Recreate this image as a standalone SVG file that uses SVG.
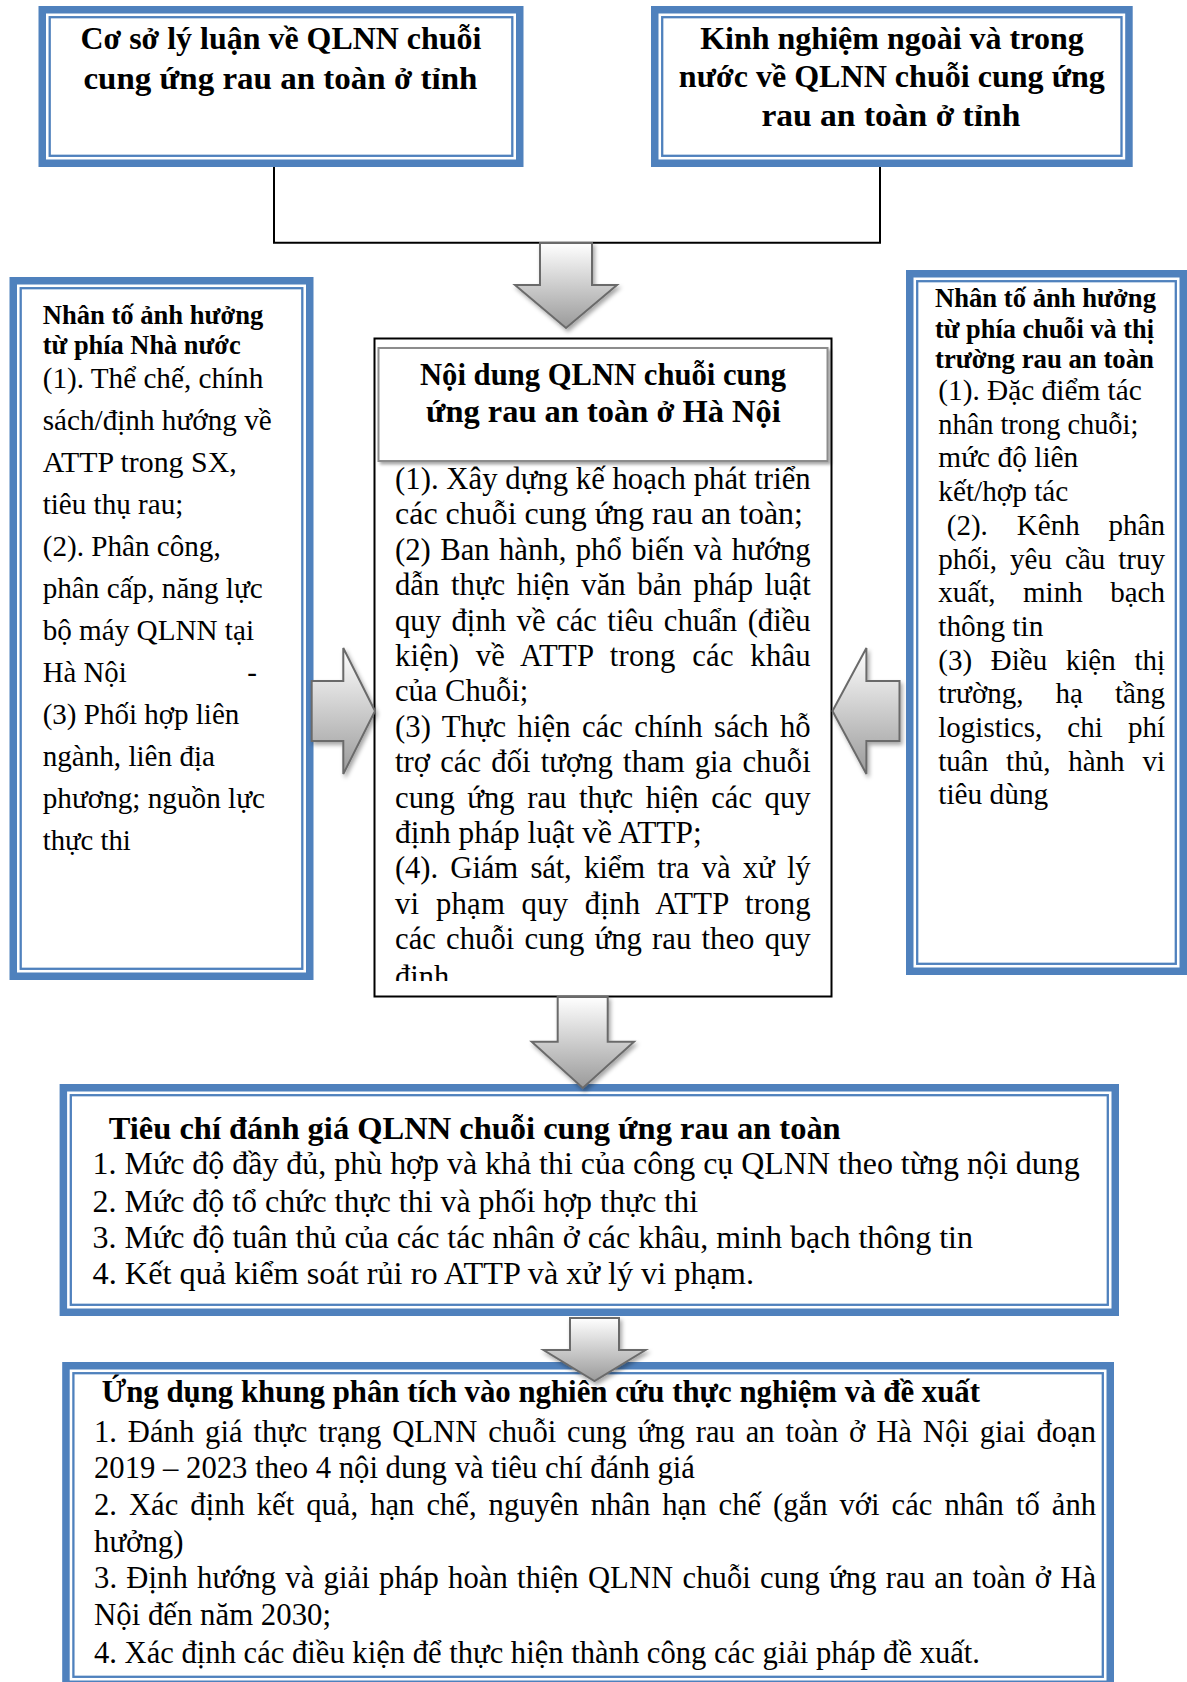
<svg xmlns="http://www.w3.org/2000/svg" width="1187" height="1682" viewBox="0 0 1187 1682">
<style>
.bt{fill:#fff;stroke:#4f81bd;stroke-width:7.5}
.bn{fill:none;stroke:#4f81bd;stroke-width:2.3}
.h{font-family:"Liberation Serif","Times New Roman","DejaVu Serif",serif;font-weight:bold;fill:#000}
.r{font-family:"Liberation Serif","Times New Roman","DejaVu Serif",serif;fill:#000}
.arr{fill:url(#ag);stroke:#6b6b6b;stroke-width:2;stroke-linejoin:miter;filter:url(#sh)}
.ln{fill:none;stroke:#000;stroke-width:2}
</style>
<defs>
<linearGradient id="ag" x1="0" y1="0" x2="0" y2="1">
<stop offset="0" stop-color="#ffffff"/>
<stop offset="1" stop-color="#9a9a9a"/>
</linearGradient>
<filter id="sh" x="-20%" y="-20%" width="150%" height="150%">
<feDropShadow dx="2" dy="3" stdDeviation="2" flood-color="#000" flood-opacity="0.35"/>
</filter>
<filter id="tsh" x="-5%" y="-5%" width="115%" height="120%">
<feDropShadow dx="2.5" dy="2.5" stdDeviation="1.5" flood-color="#000" flood-opacity="0.35"/>
</filter>
<clipPath id="cclip"><rect x="376" y="340" width="455" height="641"/></clipPath>
</defs>
<rect width="1187" height="1682" fill="#fff"/>

<g id="node-coso">
<rect class="bt" x="42.25" y="9.75" width="477.5" height="153.5"/>
<rect class="bn" x="49.7" y="17.2" width="462.6" height="138.6"/>
<text class="h" font-size="32.5" x="80.4" y="49" textLength="401" lengthAdjust="spacingAndGlyphs">Cơ sở lý luận về QLNN chuỗi</text>
<text class="h" font-size="32.5" x="83.4" y="89" textLength="394" lengthAdjust="spacingAndGlyphs">cung ứng rau an toàn ở tỉnh</text>
</g>

<g id="node-kinhnghiem">
<rect class="bt" x="654.75" y="9.75" width="474.2" height="153.5"/>
<rect class="bn" x="662.2" y="17.2" width="459.3" height="138.6"/>
<text class="h" font-size="32.5" x="700.2" y="48.5" textLength="383.5" lengthAdjust="spacingAndGlyphs">Kinh nghiệm ngoài và trong</text>
<text class="h" font-size="32.5" x="678.8" y="87" textLength="426" lengthAdjust="spacingAndGlyphs">nước về QLNN chuỗi cung ứng</text>
<text class="h" font-size="32.5" x="761.4" y="125.5" textLength="259" lengthAdjust="spacingAndGlyphs">rau an toàn ở tỉnh</text>
</g>

<g id="node-nhanuoc">
<rect class="bt" x="13.25" y="280.75" width="296.5" height="695.5"/>
<rect class="bn" x="20.7" y="288.2" width="281.6" height="680.6"/>
<text class="h" font-size="26.8" x="42.7" y="324.3" textLength="220.6" lengthAdjust="spacingAndGlyphs">Nhân tố ảnh hưởng</text>
<text class="h" font-size="26.8" x="42.7" y="354.1" textLength="198" lengthAdjust="spacingAndGlyphs">từ phía Nhà nước</text>
<text class="r" font-size="29" x="42.7" y="387.6" textLength="220.6" lengthAdjust="spacingAndGlyphs">(1). Thể chế, chính</text>
<text class="r" font-size="29" x="42.7" y="429.6" textLength="229" lengthAdjust="spacingAndGlyphs">sách/định hướng về</text>
<text class="r" font-size="29" x="42.7" y="471.7" textLength="194" lengthAdjust="spacingAndGlyphs">ATTP trong SX,</text>
<text class="r" font-size="29" x="42.7" y="513.7" textLength="140.6" lengthAdjust="spacingAndGlyphs">tiêu thụ rau;</text>
<text class="r" font-size="29" x="42.7" y="555.8" textLength="178" lengthAdjust="spacingAndGlyphs">(2). Phân công,</text>
<text class="r" font-size="29" x="42.7" y="597.8" textLength="220" lengthAdjust="spacingAndGlyphs">phân cấp, năng lực</text>
<text class="r" font-size="29" x="42.7" y="639.8" textLength="211.3" lengthAdjust="spacingAndGlyphs">bộ máy QLNN tại</text>
<text class="r" font-size="29" x="42.7" y="681.9" textLength="84" lengthAdjust="spacingAndGlyphs">Hà Nội</text>
<text class="r" font-size="29" x="247.3" y="681.9">-</text>
<text class="r" font-size="29" x="42.7" y="723.9" textLength="196.6" lengthAdjust="spacingAndGlyphs">(3) Phối hợp liên</text>
<text class="r" font-size="29" x="42.7" y="766" textLength="172.3" lengthAdjust="spacingAndGlyphs">ngành, liên địa</text>
<text class="r" font-size="29" x="42.7" y="808" textLength="222.3" lengthAdjust="spacingAndGlyphs">phương; nguồn lực</text>
<text class="r" font-size="29" x="42.7" y="850" textLength="88" lengthAdjust="spacingAndGlyphs">thực thi</text>
</g>

<g id="node-chuoi">
<rect class="bt" x="909.75" y="273.75" width="273.5" height="697.5"/>
<rect class="bn" x="917.2" y="281.2" width="258.6" height="682.6"/>
<text class="h" font-size="26.8" x="935" y="307" textLength="221" lengthAdjust="spacingAndGlyphs">Nhân tố ảnh hưởng</text>
<text class="h" font-size="26.8" x="935" y="337.5" textLength="219" lengthAdjust="spacingAndGlyphs">từ phía chuỗi và thị</text>
<text class="h" font-size="26.8" x="935" y="368" textLength="219" lengthAdjust="spacingAndGlyphs">trường rau an toàn</text>
<text class="r" font-size="29" x="938.3" y="400" textLength="203.4" lengthAdjust="spacingAndGlyphs">(1). Đặc điểm tác</text>
<text class="r" font-size="29" x="938.3" y="433.7" textLength="200" lengthAdjust="spacingAndGlyphs">nhân trong chuỗi;</text>
<text class="r" font-size="29" x="938.3" y="467.4" textLength="140" lengthAdjust="spacingAndGlyphs">mức độ liên</text>
<text class="r" font-size="29" x="938.3" y="501.1" textLength="130" lengthAdjust="spacingAndGlyphs">kết/hợp tác</text>
<text class="r" font-size="29" x="946.7" y="534.8" word-spacing="21.7" textLength="218.3" lengthAdjust="spacing">(2). Kênh phân</text>
<text class="r" font-size="29" x="938.3" y="568.5" word-spacing="5.8" textLength="226.7" lengthAdjust="spacing">phối, yêu cầu truy</text>
<text class="r" font-size="29" x="938.3" y="602.2" word-spacing="20.3" textLength="226.7" lengthAdjust="spacing">xuất, minh bạch</text>
<text class="r" font-size="29" x="938.3" y="635.9" textLength="105" lengthAdjust="spacingAndGlyphs">thông tin</text>
<text class="r" font-size="29" x="938.3" y="669.6" word-spacing="11.4" textLength="226.7" lengthAdjust="spacing">(3) Điều kiện thị</text>
<text class="r" font-size="29" x="938.3" y="703.3" word-spacing="24.6" textLength="226.7" lengthAdjust="spacing">trường, hạ tầng</text>
<text class="r" font-size="29" x="938.3" y="737" word-spacing="17.9" textLength="226.7" lengthAdjust="spacing">logistics, chi phí</text>
<text class="r" font-size="29" x="938.3" y="770.7" word-spacing="10.6" textLength="226.7" lengthAdjust="spacing">tuân thủ, hành vi</text>
<text class="r" font-size="29" x="938.3" y="804.4" textLength="110" lengthAdjust="spacingAndGlyphs">tiêu dùng</text>
</g>

<g id="node-noidung">
<rect x="374.5" y="338.5" width="457" height="658" fill="#fff" stroke="#000" stroke-width="2"/>
<rect x="378.5" y="348" width="449" height="113" fill="#fff" stroke="#8c8c8c" stroke-width="2" filter="url(#tsh)"/>
<text class="h" font-size="30.5" x="420" y="385" textLength="366" lengthAdjust="spacingAndGlyphs">Nội dung QLNN chuỗi cung</text>
<text class="h" font-size="30.5" x="426" y="422" textLength="354.7" lengthAdjust="spacingAndGlyphs">ứng rau an toàn ở Hà Nội</text>
<g clip-path="url(#cclip)">
<text class="r" font-size="30.7" x="395" y="489" textLength="415.7" lengthAdjust="spacing">(1). Xây dựng kế hoạch phát triển</text>
<text class="r" font-size="30.7" x="395" y="524.4" textLength="408" lengthAdjust="spacingAndGlyphs">các chuỗi cung ứng rau an toàn;</text>
<text class="r" font-size="30.7" x="395" y="559.8" word-spacing="1.6" textLength="415.7" lengthAdjust="spacing">(2) Ban hành, phổ biến và hướng</text>
<text class="r" font-size="30.7" x="395" y="595.2" word-spacing="3.9" textLength="415.7" lengthAdjust="spacing">dẫn thực hiện văn bản pháp luật</text>
<text class="r" font-size="30.7" x="395" y="630.6" word-spacing="2.8" textLength="415.7" lengthAdjust="spacing">quy định về các tiêu chuẩn (điều</text>
<text class="r" font-size="30.7" x="395" y="666" word-spacing="8.6" textLength="415.7" lengthAdjust="spacing">kiện) về ATTP trong các khâu</text>
<text class="r" font-size="30.7" x="395" y="701.4" textLength="133.3" lengthAdjust="spacingAndGlyphs">của Chuỗi;</text>
<text class="r" font-size="30.7" x="395" y="736.8" word-spacing="3.6" textLength="415.7" lengthAdjust="spacing">(3) Thực hiện các chính sách hỗ</text>
<text class="r" font-size="30.7" x="395" y="772.2" word-spacing="2.4" textLength="415.7" lengthAdjust="spacing">trợ các đối tượng tham gia chuỗi</text>
<text class="r" font-size="30.7" x="395" y="807.6" word-spacing="4.7" textLength="415.7" lengthAdjust="spacing">cung ứng rau thực hiện các quy</text>
<text class="r" font-size="30.7" x="395" y="843" textLength="306.7" lengthAdjust="spacingAndGlyphs">định pháp luật về ATTP;</text>
<text class="r" font-size="30.7" x="395" y="878.4" word-spacing="4.9" textLength="415.7" lengthAdjust="spacing">(4). Giám sát, kiểm tra và xử lý</text>
<text class="r" font-size="30.7" x="395" y="913.8" word-spacing="8.6" textLength="415.7" lengthAdjust="spacing">vi phạm quy định ATTP trong</text>
<text class="r" font-size="30.7" x="395" y="949.2" word-spacing="2.5" textLength="415.7" lengthAdjust="spacing">các chuỗi cung ứng rau theo quy</text>
<text class="r" font-size="30.7" x="395" y="986.6" textLength="61.7" lengthAdjust="spacingAndGlyphs">định.</text>
</g>
</g>

<g id="node-tieuchi">
<rect class="bt" x="63.35" y="1087.75" width="1051.9" height="224.5"/>
<rect class="bn" x="70.8" y="1095.2" width="1037" height="209.6"/>
<text class="h" font-size="32" x="108.7" y="1139" textLength="732" lengthAdjust="spacingAndGlyphs">Tiêu chí đánh giá QLNN chuỗi cung ứng rau an toàn</text>
<text class="r" font-size="32" x="92.6" y="1174" textLength="987" lengthAdjust="spacingAndGlyphs">1. Mức độ đầy đủ, phù hợp và khả thi của công cụ QLNN theo từng nội dung</text>
<text class="r" font-size="32" x="92.6" y="1211.5" textLength="605.4" lengthAdjust="spacingAndGlyphs">2. Mức độ tổ chức thực thi và phối hợp thực thi</text>
<text class="r" font-size="32" x="92.6" y="1248" textLength="880.4" lengthAdjust="spacingAndGlyphs">3. Mức độ tuân thủ của các tác nhân ở các khâu, minh bạch thông tin</text>
<text class="r" font-size="32" x="92.6" y="1284" textLength="661.4" lengthAdjust="spacingAndGlyphs">4. Kết quả kiểm soát rủi ro ATTP và xử lý vi phạm.</text>
</g>

<g id="node-ungdung">
<rect class="bt" x="65.95" y="1365.75" width="1044.3" height="318.5"/>
<rect class="bn" x="73.4" y="1373.2" width="1029.4" height="303.6"/>
<text class="h" font-size="31" x="101.7" y="1402" textLength="878.3" lengthAdjust="spacingAndGlyphs">Ứng dụng khung phân tích vào nghiên cứu thực nghiệm và đề xuất</text>
<text class="r" font-size="30.6" x="94" y="1441.7" word-spacing="3.2" textLength="1002" lengthAdjust="spacing">1. Đánh giá thực trạng QLNN chuỗi cung ứng rau an toàn ở Hà Nội giai đoạn</text>
<text class="r" font-size="30.6" x="94" y="1478.3" textLength="601" lengthAdjust="spacingAndGlyphs">2019 – 2023 theo 4 nội dung và tiêu chí đánh giá</text>
<text class="r" font-size="30.6" x="94" y="1515" word-spacing="4.4" textLength="1002" lengthAdjust="spacing">2. Xác định kết quả, hạn chế, nguyên nhân hạn chế (gắn với các nhân tố ảnh</text>
<text class="r" font-size="30.6" x="94" y="1551.7" textLength="89.5" lengthAdjust="spacingAndGlyphs">hưởng)</text>
<text class="r" font-size="30.6" x="94" y="1588.3" word-spacing="1.4" textLength="1002" lengthAdjust="spacing">3. Định hướng và giải pháp hoàn thiện QLNN chuỗi cung ứng rau an toàn ở Hà</text>
<text class="r" font-size="30.6" x="94" y="1625" textLength="237" lengthAdjust="spacingAndGlyphs">Nội đến năm 2030;</text>
<text class="r" font-size="30.6" x="94" y="1663.3" textLength="886" lengthAdjust="spacingAndGlyphs">4. Xác định các điều kiện để thực hiện thành công các giải pháp đề xuất.</text>
</g>

<g id="connectors">
<path class="ln" d="M274,167 V242.7 H880 V167"/>
<path class="arr" d="M540,243 H592 V285 H617 L566,328 L515,285 H540 Z"/>
<path class="arr" d="M311.7,681 H343.3 V648 L375,711 L343.3,774 V741 H311.7 Z"/>
<path class="arr" d="M899.5,681 H866.4 V648 L832.5,711 L866.4,774 V741 H899.5 Z"/>
<path class="arr" d="M557.7,997 H607.7 V1041.7 H634 L582.8,1088 L531.7,1041.7 H557.7 Z"/>
<path class="arr" d="M570,1318 H619 V1350 H645.5 L594.5,1381 L543.5,1350 H570 Z"/>
</g>
</svg>
